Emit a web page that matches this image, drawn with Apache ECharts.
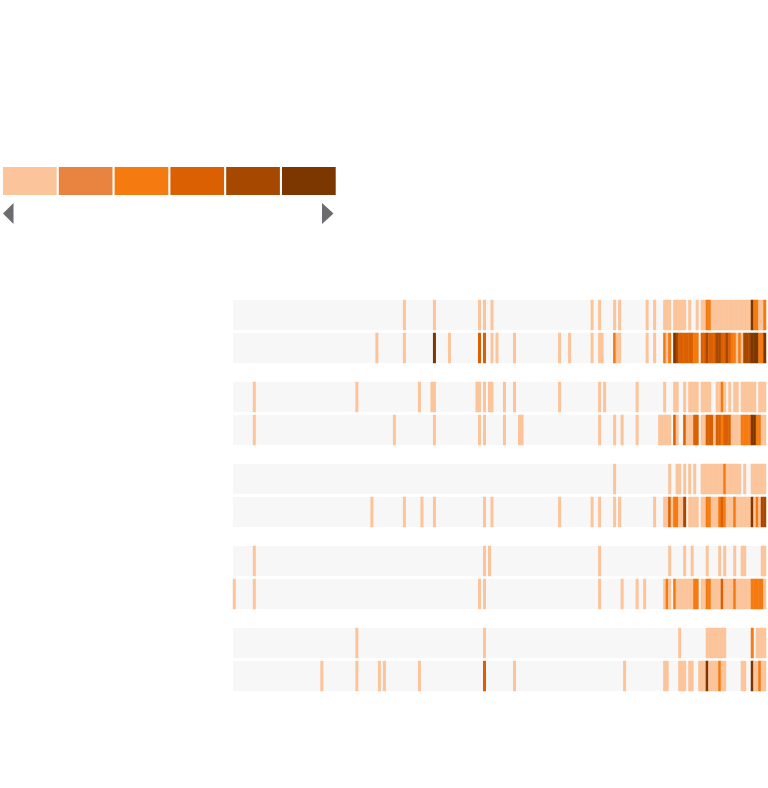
<!DOCTYPE html>
<html>
<head>
<meta charset="utf-8">
<script src="https://cdn.jsdelivr.net/npm/echarts@6/dist/echarts.min.js"></script>
<style>html,body{margin:0;padding:0;background:#fff;}#main{width:768px;height:788px;}</style>
</head>
<body>
<div id="main"></div>
<script>
// ---- data ----
const columnCount = 213;
const columns = Array.from({length: columnCount}, (_, i) => String(i));
const levels = [1, 2, 3, 4, 5, 6];
const levelColors = ['#fcc49a', '#e8843f', '#f57a10', '#db6002', '#a64800', '#7c3600'];
const rowNames = ['r1', 'r2', 'r3', 'r4', 'r5', 'r6', 'r7', 'r8', 'r9', 'r10'];

// each entry: [column, level]
const row1 = [[68,1],[80,1],[98,1],[100,1],[103,1],[143,1],[146,1],[152,1],[154,1],[165,1],[168,1],[172,1],[173,1],[174,1],[176,1],[177,1],[178,1],[179,1],[180,1],[182,1],[185,1],[187,1],[188,1],[189,3],[190,3],[191,1],[192,1],[193,1],[194,1],[195,1],[196,1],[197,1],[198,1],[199,1],[200,1],[201,1],[202,1],[203,1],[204,1],[205,1],[206,1],[207,6],[208,3],[209,3],[210,1],[211,1],[212,3]];
const row2 = [[57,1],[68,1],[80,6],[86,1],[98,4],[100,4],[103,1],[105,1],[112,1],[130,1],[134,1],[143,1],[146,1],[147,1],[152,3],[153,1],[154,1],[165,1],[168,1],[172,3],[173,1],[174,3],[176,6],[177,5],[178,4],[179,4],[180,4],[181,4],[182,4],[183,4],[184,3],[185,3],[187,4],[188,4],[189,5],[190,4],[191,4],[192,4],[193,5],[194,5],[195,4],[196,4],[197,5],[198,4],[199,3],[200,3],[201,1],[202,3],[203,1],[204,5],[205,5],[206,5],[207,6],[208,6],[209,6],[210,3],[211,3],[212,6]];
const row3 = [[8,1],[49,1],[74,1],[79,1],[80,1],[97,1],[98,1],[100,1],[102,1],[103,1],[108,1],[112,1],[130,1],[146,1],[148,1],[161,1],[172,1],[176,1],[177,1],[180,1],[182,1],[183,1],[184,1],[185,1],[187,1],[188,1],[189,1],[190,1],[193,1],[194,1],[195,3],[196,1],[198,1],[200,1],[201,1],[203,1],[204,1],[205,1],[206,1],[207,1],[208,1],[210,1],[211,1],[212,1]];
const row4 = [[8,1],[64,1],[80,1],[98,1],[100,1],[108,1],[114,1],[115,1],[146,1],[152,1],[155,1],[161,1],[170,1],[171,1],[172,1],[173,1],[174,1],[176,4],[177,1],[180,4],[181,1],[182,1],[183,1],[184,4],[185,4],[187,1],[188,1],[189,4],[190,4],[191,4],[192,1],[193,4],[194,4],[195,3],[196,4],[197,4],[198,4],[199,1],[200,1],[201,1],[202,1],[203,3],[204,3],[205,3],[206,3],[207,6],[208,6],[209,3],[210,3],[211,1],[212,1]];
const row5 = [[152,1],[174,1],[177,1],[178,1],[180,1],[182,1],[184,1],[187,1],[188,1],[189,1],[190,1],[191,1],[192,1],[193,1],[194,1],[195,1],[196,3],[197,1],[198,1],[199,1],[200,1],[201,1],[202,1],[204,1],[207,1],[208,1],[209,1],[210,1],[211,1],[212,1]];
const row6 = [[55,1],[68,1],[75,1],[80,1],[100,1],[103,1],[130,1],[143,1],[146,1],[152,1],[154,1],[168,1],[172,1],[173,1],[174,4],[175,1],[176,3],[177,3],[178,1],[179,1],[180,5],[182,1],[183,1],[184,1],[185,1],[187,1],[188,1],[189,3],[190,3],[191,1],[192,1],[193,1],[194,3],[195,4],[196,3],[197,1],[198,1],[199,1],[200,3],[201,1],[202,1],[203,1],[204,1],[205,1],[206,1],[207,6],[208,1],[209,3],[210,1],[211,5],[212,5]];
const row7 = [[8,1],[100,1],[102,1],[146,1],[174,1],[180,1],[183,1],[189,1],[194,1],[196,1],[200,1],[203,1],[204,1],[211,1],[212,1]];
const row8 = [[0,1],[8,1],[98,1],[100,1],[146,1],[155,1],[161,1],[164,1],[172,1],[173,3],[174,1],[176,3],[177,1],[178,1],[179,1],[180,1],[181,1],[182,1],[183,1],[184,3],[185,3],[187,1],[188,1],[189,3],[190,3],[191,1],[192,1],[193,1],[194,1],[195,4],[196,1],[197,1],[198,1],[199,1],[200,3],[201,1],[202,1],[203,1],[204,1],[205,1],[206,1],[207,3],[208,3],[209,3],[210,3],[211,3],[212,1]];
const row9 = [[49,1],[100,1],[178,1],[189,1],[190,1],[191,1],[192,1],[193,1],[194,1],[195,1],[196,1],[207,3],[209,1],[210,1],[211,1],[212,1]];
const row10 = [[35,1],[49,1],[58,1],[60,1],[74,1],[100,4],[112,1],[156,1],[172,1],[173,1],[178,1],[179,1],[180,1],[182,1],[183,1],[186,1],[187,1],[188,1],[189,6],[190,1],[191,1],[192,1],[193,1],[194,3],[195,1],[196,1],[203,1],[204,1],[207,6],[208,1],[209,1],[210,3],[211,1],[212,1]];
const rows = [row1, row2, row3, row4, row5, row6, row7, row8, row9, row10];

// ---- layout ----
const rowTops = [300, 333, 382, 415, 464, 497, 546, 579, 628, 661];
const rowHeight = 30;

const grids = [], xAxes = [], yAxes = [], series = [];
rows.forEach((r, i) => {
  grids.push({left: 233, width: 533, top: rowTops[i], height: rowHeight,
    show: true, backgroundColor: '#f7f7f7', borderWidth: 0, containLabel: false});
  xAxes.push({type: 'category', gridIndex: i, data: columns, show: false});
  yAxes.push({type: 'category', gridIndex: i, data: [rowNames[i]], show: false});
  series.push({type: 'heatmap', xAxisIndex: i, yAxisIndex: i,
    data: r.map(d => [d[0], 0, d[1]]),
    emphasis: {disabled: true}, silent: true});
});

const chart = echarts.init(document.getElementById('main'), null, {renderer: 'canvas'});
chart.setOption({
  animation: false,
  backgroundColor: '#fff',
  tooltip: {show: false},
  grid: grids, xAxis: xAxes, yAxis: yAxes, series: series,
  visualMap: {
    type: 'piecewise', orient: 'horizontal', left: 3, top: 167, padding: 0,
    itemWidth: 53.7, itemHeight: 28, itemGap: 2.1, itemSymbol: 'rect', showLabel: false,
    pieces: levels.map((v, i) => ({value: v, color: levelColors[i]})),
    seriesIndex: rows.map((_, i) => i)
  },
  graphic: [
    {type: 'polygon', shape: {points: [[3, 213.5], [13.5, 203], [13.5, 224]]}, style: {fill: '#6b6b70'}},
    {type: 'polygon', shape: {points: [[333.5, 213.5], [322, 203], [322, 224]]}, style: {fill: '#6b6b70'}}
  ]
});
</script>
</body>
</html>
